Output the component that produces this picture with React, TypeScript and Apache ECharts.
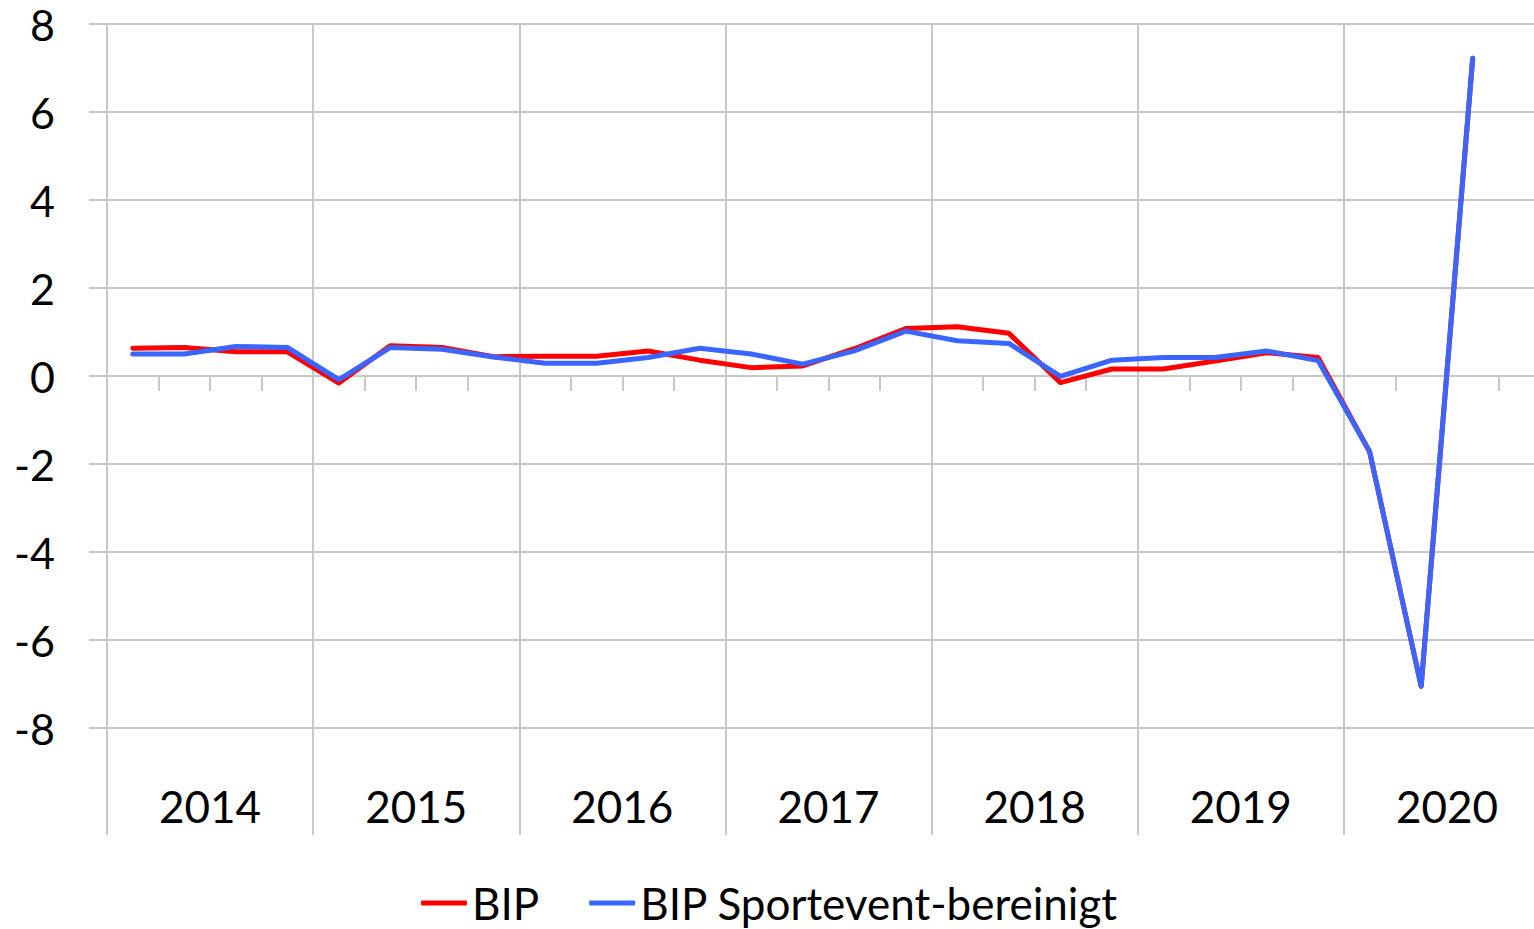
import React, { useEffect, useRef } from "react";
import * as echarts from "echarts";

const quarters = [
  "2014Q1","2014Q2","2014Q3","2014Q4",
  "2015Q1","2015Q2","2015Q3","2015Q4",
  "2016Q1","2016Q2","2016Q3","2016Q4",
  "2017Q1","2017Q2","2017Q3","2017Q4",
  "2018Q1","2018Q2","2018Q3","2018Q4",
  "2019Q1","2019Q2","2019Q3","2019Q4",
  "2020Q1","2020Q2","2020Q3","2020Q4",
];
const years = ["2014", "2015", "2016", "2017", "2018", "2019", "2020"];

const bip = [
  0.63, 0.65, 0.55, 0.55,
  -0.16, 0.69, 0.65, 0.44,
  0.45, 0.45, 0.57, 0.36,
  0.19, 0.23, 0.62, 1.08,
  1.12, 0.97, -0.15, 0.16,
  0.16, 0.34, 0.53, 0.42,
  -1.72, -7.05, 7.22, null,
];
const bipSport = [
  0.5, 0.5, 0.67, 0.65,
  -0.08, 0.65, 0.61, 0.43,
  0.29, 0.29, 0.42, 0.63,
  0.5, 0.27, 0.57, 1.02,
  0.8, 0.74, -0.01, 0.36,
  0.42, 0.42, 0.57, 0.35,
  -1.72, -7.05, 7.22, null,
];

const FONT = "Lato";
const GRID = "#c8c8c8";

export default function App() {
  const ref = useRef<HTMLDivElement>(null);
  useEffect(() => {
    if (!ref.current) return;
    const chart = echarts.init(ref.current, null, { renderer: "svg" });
    chart.setOption({
      animation: false,
      textStyle: { fontFamily: FONT },
      grid: { left: 107, top: 24, width: 1443, height: 704, containLabel: false },
      legend: {
        left: 416,
        top: 875,
        itemWidth: 46,
        itemHeight: 5,
        itemGap: 50,
        icon: "roundRect",
        textStyle: { fontFamily: FONT, fontSize: 44, lineHeight: 46, color: "#000" },
        data: ["BIP", "BIP Sportevent-bereinigt"],
      },
      xAxis: [
        {
          type: "category",
          data: quarters,
          position: "bottom",
          boundaryGap: true,
          axisLine: { show: true, onZero: true, lineStyle: { color: GRID, width: 2 } },
          axisTick: { show: true, interval: 0, length: 15, lineStyle: { color: GRID, width: 2 } },
          axisLabel: { show: false },
          splitLine: { show: false },
        },
        {
          type: "category",
          data: years,
          position: "bottom",
          boundaryGap: true,
          axisLine: { show: false, onZero: false },
          axisTick: { show: true, interval: 0, length: 107, lineStyle: { color: GRID, width: 2 } },
          axisLabel: {
            show: true,
            interval: 0,
            margin: 55,
            fontFamily: FONT,
            fontSize: 44,
            lineHeight: 46,
            color: "#000",
          },
          splitLine: { show: true, interval: 0, lineStyle: { color: GRID, width: 2 } },
        },
      ],
      yAxis: {
        type: "value",
        min: -8,
        max: 8,
        interval: 2,
        axisLine: { show: false },
        axisTick: { show: true, length: 18, lineStyle: { color: GRID, width: 2 } },
        axisLabel: { margin: 52, fontFamily: FONT, fontSize: 43, lineHeight: 44, color: "#000" },
        splitLine: { show: true, lineStyle: { color: GRID, width: 2 } },
      },
      series: [
        {
          name: "BIP",
          type: "line",
          xAxisIndex: 0,
          data: bip,
          symbol: "none",
          showSymbol: false,
          lineStyle: { color: "#ff0000", width: 5, cap: "round", join: "round" },
          itemStyle: { color: "#ff0000" },
          z: 2,
        },
        {
          name: "BIP Sportevent-bereinigt",
          type: "line",
          xAxisIndex: 0,
          data: bipSport,
          symbol: "none",
          showSymbol: false,
          lineStyle: { color: "#3a66ff", width: 5, cap: "round", join: "round" },
          itemStyle: { color: "#3a66ff" },
          z: 3,
        },
      ],
    });
    return () => chart.dispose();
  }, []);
  return (
    <div
      style={{
        position: "fixed",
        left: 0,
        top: 0,
        width: 1534,
        height: 929,
        overflow: "hidden",
        background: "#fff",
      }}
    >
      <div ref={ref} style={{ width: 1560, height: 929 }} />
    </div>
  );
}
